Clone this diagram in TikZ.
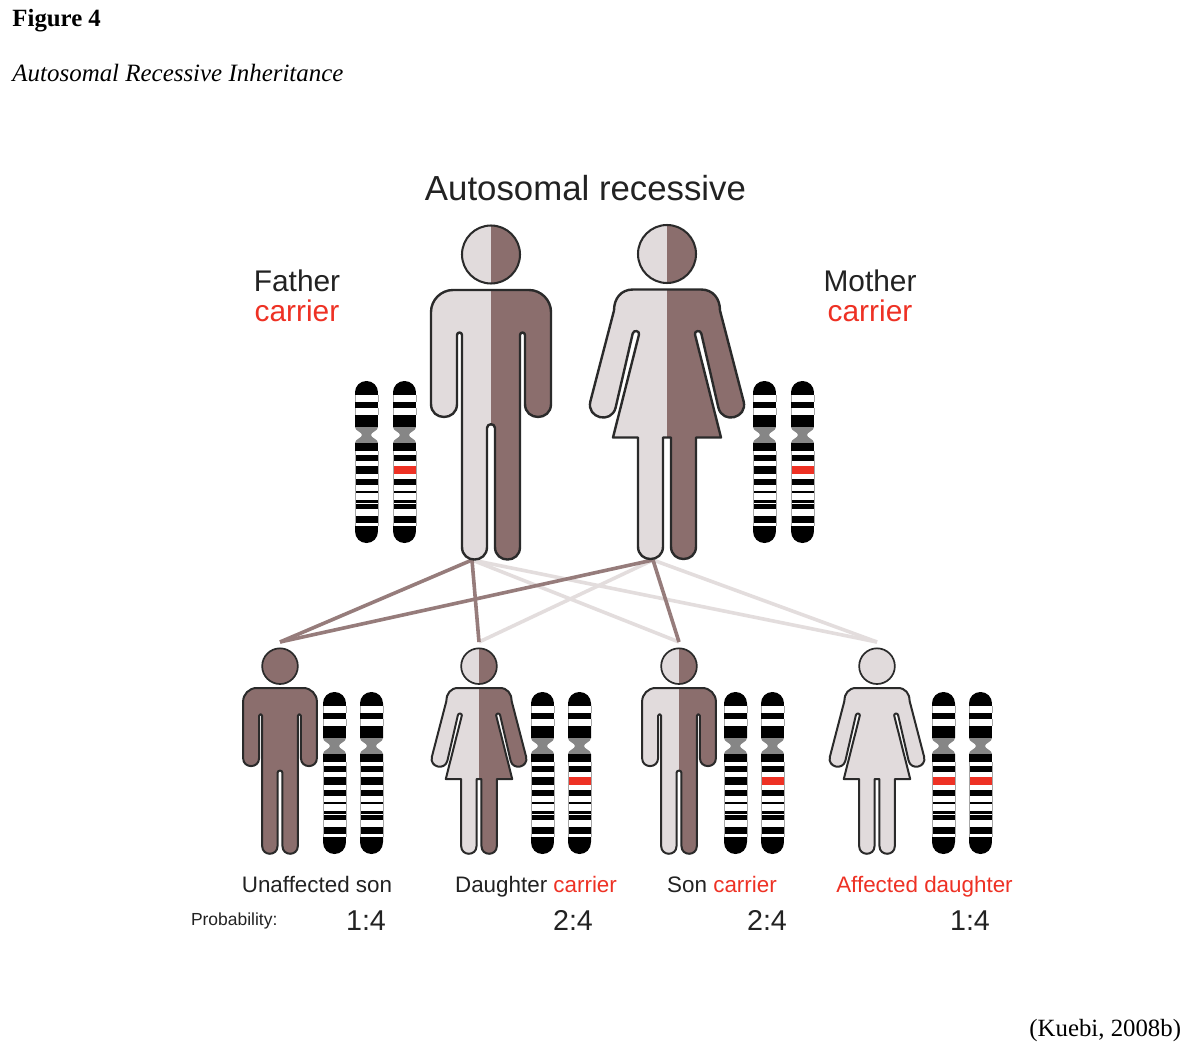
\documentclass[tikz,border=0pt]{standalone}
\usepackage{fontspec}
\setmainfont{Liberation Sans}
\newfontfamily\tnr{Liberation Serif}
\definecolor{lightfig}{HTML}{E1DBDC}
\definecolor{darkfig}{HTML}{8B6E6D}
\definecolor{darkline}{HTML}{967C7B}
\definecolor{lightline}{HTML}{E3DDDD}
\definecolor{outl}{HTML}{2A2A2A}
\definecolor{redtxt}{HTML}{EE3124}
\definecolor{txt}{HTML}{222222}
\newcommand{\fs}[1]{\fontsize{#1}{#1}\selectfont}
\newcommand{\manpath}{(0,0) -- (-38,0) .. controls (-50,0) and (-60,10) .. (-60,22) -- (-60,114) .. controls (-60,131.3) and (-34,131.3) .. (-34,114) -- (-34,45) .. controls (-34,41.7) and (-29,41.7) .. (-29,45) -- (-29,257) .. controls (-29,273.7) and (-4,273.7) .. (-4,257) -- (-4,138) .. controls (-4,133) and (4,133) .. (4,138) -- (4,257) .. controls (4,273.7) and (29,273.7) .. (29,257) -- (29,45) .. controls (29,41.7) and (34,41.7) .. (34,45) -- (34,114) .. controls (34,131.3) and (60,131.3) .. (60,114) -- (60,22) .. controls (60,10) and (50,0) .. (38,0) -- cycle}
\newcommand{\womanpath}{(0,0) -- (-34,0) .. controls (-46,0) and (-53,9) .. (-53,21) -- (-76.6,111.8) .. controls (-80.9,128.6) and (-55.7,135) .. (-51.4,118.2) -- (-34.3,44) .. controls (-33.4,40) and (-27,41.3) .. (-28,45) -- (-54,148) -- (-29,148) -- (-29,257) .. controls (-29,273.7) and (-4,273.7) .. (-4,257) -- (-4,148) -- (4,148) -- (4,257) .. controls (4,273.7) and (29,273.7) .. (29,257) -- (29,148) -- (54,148) -- (28,45) .. controls (27,41.3) and (33.4,40) .. (34.3,44) -- (51.4,118.2) .. controls (55.7,135) and (80.9,128.6) .. (76.6,111.8) -- (53,21) .. controls (53,9) and (46,0) .. (34,0) -- cycle}
% path, cx, top y, scale, left colour, right colour, line width
\newcommand{\person}[7]{%
  \begin{scope}[shift={(#2,#3)},scale=#4,line width=#7,draw=outl]
    \begin{scope}\clip #1;
      \fill[#5] (-90,-5) rectangle (0,285);
      \fill[#6] (0,-5) rectangle (90,285);
    \end{scope}
    \draw[line join=round] #1;
    \begin{scope}\clip (0,-35.5) circle (29);
      \fill[#5] (-40,-70) rectangle (0,0);
      \fill[#6] (0,-70) rectangle (40,0);
    \end{scope}
    \draw[line width=#7*.85] (0,-35.5) circle (29);
  \end{scope}}
% left x, top y, colour of the marked band
\newcommand{\chromosome}[3]{%
  \begin{scope}[shift={(#1,#2)}]
    \begin{scope}
      \clip (0,11.5) .. controls (0,5) and (5,0) .. (11.5,0) .. controls (18,0) and (23,5) .. (23,11.5) -- (23,46) .. controls (23,50) and (16,51) .. (16,54) .. controls (16,57) and (23,58) .. (23,62) -- (23,150) .. controls (23,157) and (18,162) .. (11.5,162) .. controls (5,162) and (0,157) .. (0,150) -- (0,62) .. controls (0,58) and (7,57) .. (7,54) .. controls (7,51) and (0,50) .. (0,46) -- cycle;
      \fill[white] (-1,-1) rectangle (24,163);
      \fill[gray!95] (-1,46) rectangle (24,62);
      \foreach \a/\b in {-1/14,21/27,34/46,62/70,74/80,98/104,110/112,119/122,123/128,135/142,145/163}
        \fill[black] (-1,\a) rectangle (24,\b);
      \fill[#3] (-1,85) rectangle (24,93);
    \end{scope}
    \draw[black!35,line width=.4pt] (0,14) -- (0,21) (23,14) -- (23,21) (0,27) -- (0,34) (23,27) -- (23,34) (0,70) -- (0,145) (23,70) -- (23,145);
  \end{scope}}
\begin{document}
\begin{tikzpicture}[x=.75pt,y=-.75pt,
  every node/.style={inner sep=0pt,outer sep=0pt,text=txt},
  darkedge/.style={draw=darkline,line width=2.7pt},
  lightedge/.style={draw=lightline,line width=2.7pt},
  lab/.style={anchor=base,font=\fs{16.8}},
  par/.style={anchor=base,font=\fs{22.4}},
  ratio/.style={anchor=base,font=\fs{21.5}}]
\useasboundingbox (0,0) rectangle (1190,1056);
\fill[white] (0,0) rectangle (1190,1056);
\node[anchor=base west,font=\tnr\bfseries\fs{18.6},text=black] (figno) at (12.5,27) {Figure 4};
\node[anchor=base west,font=\tnr\itshape\fs{18.7},text=black] (figtitle) at (12.5,82) {Autosomal Recessive Inheritance};
\node[anchor=base,font=\fs{26.1}] (main) at (585.5,200) {Autosomal recessive};
\node[par] (father) at (297,291) {Father};
\node[par,text=redtxt] (fcarrier) at (297,321) {carrier};
\node[par] (mother) at (870,291) {Mother};
\node[par,text=redtxt] (mcarrier) at (870,321) {carrier};

\coordinate (fa) at (472,560);
\coordinate (mo) at (653,560);
\coordinate (c1) at (280,642);
\coordinate (c2) at (479,642);
\coordinate (c3) at (679,642);
\coordinate (c4) at (877,642);
\draw[lightedge] (fa) -- (c3);
\draw[lightedge] (fa) -- (c4);
\draw[lightedge] (mo) -- (c2);
\draw[lightedge] (mo) -- (c4);
\draw[darkedge] (fa) -- (c1);
\draw[darkedge] (fa) -- (c2);
\draw[darkedge] (mo) -- (c1);
\draw[darkedge] (mo) -- (c3);

\person{\manpath}{491}{290}{1}{lightfig}{darkfig}{1.8pt}
\person{\womanpath}{667}{289.5}{1}{lightfig}{darkfig}{1.8pt}
\person{\manpath}{280}{688}{.615}{darkfig}{darkfig}{1.5pt}
\person{\womanpath}{479}{688}{.615}{lightfig}{darkfig}{1.5pt}
\person{\manpath}{679}{688}{.615}{lightfig}{darkfig}{1.5pt}
\person{\womanpath}{877}{688}{.615}{lightfig}{lightfig}{1.5pt}

\chromosome{355}{381}{black}
\chromosome{393}{381}{redtxt}
\chromosome{753}{381}{black}
\chromosome{791}{381}{redtxt}
\chromosome{323}{692}{black}
\chromosome{360}{692}{black}
\chromosome{531}{692}{black}
\chromosome{568}{692}{redtxt}
\chromosome{724}{692}{black}
\chromosome{761}{692}{redtxt}
\chromosome{932}{692}{redtxt}
\chromosome{969}{692}{redtxt}

\node[lab] (l1) at (317,892) {Unaffected son};
\node[lab] (l2) at (536,892) {Daughter {\color{redtxt}carrier}};
\node[lab] (l3) at (722,892) {Son {\color{redtxt}carrier}};
\node[lab,text=redtxt] (l4) at (924.5,892) {Affected daughter};
\node[anchor=base west,font=\fs{13.1}] (prob) at (191,925) {Probability:};
\node[ratio] (r1) at (366,930) {1:4};
\node[ratio] (r2) at (573,930) {2:4};
\node[ratio] (r3) at (767,930) {2:4};
\node[ratio] (r4) at (970,930) {1:4};
\node[anchor=base east,font=\tnr\fs{18.6},text=black] (cite) at (1181,1036) {(Kuebi, 2008b)};
\end{tikzpicture}
\end{document}
